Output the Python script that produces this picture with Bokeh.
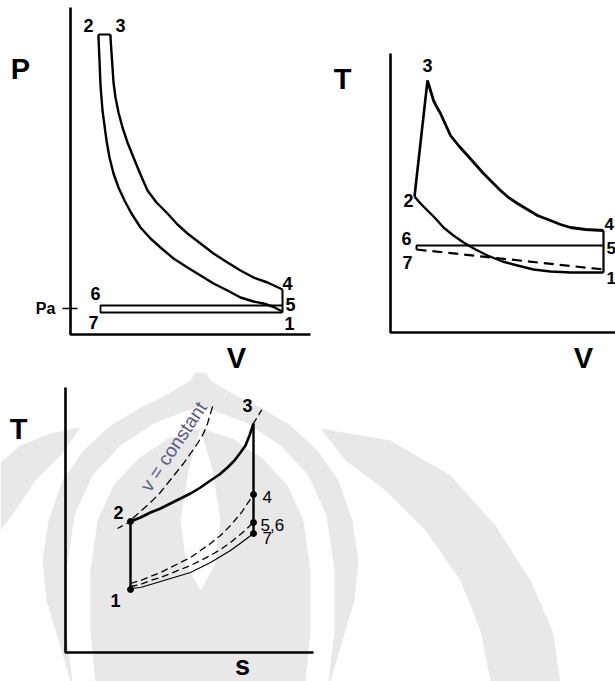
from bokeh.plotting import figure
from bokeh.layouts import column, row
from bokeh.models import Range1d
from bokeh.embed import file_html
from bokeh.resources import INLINE
from bokeh.core.properties import value

FONT = value("Liberation Sans")

# ---------------- Panel 1 : P - V diagram (schematic units) ----------------
pv_axis_v = [0.0, 0.0, 24.0]
pv_axis_p = [32.7, 0.0, 0.0]
pv_comp_v = [21.2, 20.2, 19.3, 18.3, 17.0, 15.7, 14.3, 13.0, 11.7, 10.3, 9.0, 8.0, 7.0, 6.1,
             5.4, 4.8, 4.3, 3.9, 3.6, 3.4, 3.2, 3.0, 2.9, 2.8, 2.8]
pv_comp_p = [2.3, 2.8, 3.1, 3.3, 3.7, 4.4, 5.1, 5.9, 6.7, 7.6, 8.7, 9.6, 10.7, 12.1,
             13.4, 14.7, 16.1, 17.7, 19.4, 20.9, 22.4, 24.9, 27.4, 29.7, 30.0]
pv_heat_v = [2.8, 4.0]
pv_heat_p = [30.0, 30.0]
pv_exp_v = [4.0, 4.0, 4.1, 4.2, 4.3, 4.5, 4.8, 5.2, 5.7, 6.3, 7.0, 7.7, 8.6, 9.7, 10.7,
            11.7, 13.0, 14.3, 15.7, 17.0, 18.3, 19.7, 21.2]
pv_exp_p = [30.0, 29.7, 28.2, 26.7, 25.2, 23.7, 22.2, 20.7, 19.2, 17.7, 16.0, 14.4, 13.2, 12.1, 11.0,
            10.1, 9.1, 8.1, 7.2, 6.4, 5.7, 5.2, 4.5]
pv_blow_v = [21.2, 21.2]
pv_blow_p = [4.5, 2.2]
pv_gas_v = [21.2, 3.0, 3.0, 21.2]
pv_gas_p = [2.9, 2.9, 2.2, 2.2]
pv_pa_v = [-0.8, 0.7]
pv_pa_p = [2.6, 2.6]
pv_lbl = ["2", "3", "4", "5", "1", "6", "7"]
pv_lbl_v = [1.8, 5.0, 21.7, 22.0, 21.9, 2.5, 2.3]
pv_lbl_p = [30.9, 30.9, 5.1, 3.0, 1.1, 4.1, 1.2]
pv_axis_lbl = ["P", "V"]
pv_axis_lbl_v = [-5.0, 16.6]
pv_axis_lbl_p = [26.6, -2.3]

# ---------------- Panel 2 : T - V diagram ----------------
tv_axis_v = [0.0, 0.0, 22.5]
tv_axis_t = [27.9, 0.0, 0.0]
tv_comb_v = [2.4, 3.7]
tv_comb_t = [13.6, 25.2]
tv_exp_v = [3.7, 4.0, 4.3, 4.6, 5.0, 5.5, 6.0, 6.8, 7.7, 8.5, 9.3, 10.2, 11.0, 11.8, 12.7,
            13.7, 14.7, 16.0, 17.0, 18.0, 19.5, 21.3]
tv_exp_t = [25.2, 24.2, 23.2, 22.6, 21.9, 20.8, 19.7, 18.7, 17.7, 16.8, 15.9, 15.0, 14.2, 13.5, 12.9,
            12.3, 11.7, 11.2, 10.8, 10.5, 10.3, 10.2]
tv_blow_v = [21.3, 21.3]
tv_blow_t = [10.2, 6.0]
tv_comp_v = [21.3, 18.0, 16.0, 14.3, 12.7, 11.2, 9.7, 8.5, 7.3, 6.3, 5.3, 4.5, 3.7, 3.0, 2.4]
tv_comp_t = [6.0, 6.0, 6.1, 6.3, 6.7, 7.1, 7.7, 8.3, 9.0, 9.7, 10.5, 11.4, 12.2, 12.9, 13.6]
tv_exh_v = [21.3, 2.6, 2.6]
tv_exh_t = [8.7, 8.7, 8.3]
tv_int_v = [2.6, 21.3]
tv_int_t = [8.3, 6.3]
tv_lbl = ["3", "2", "6", "7"]
tv_lbl_v = [3.7, 1.8, 1.6, 1.7]
tv_lbl_t = [26.7, 13.2, 9.4, 7.0]
tv_lbl_r = ["4", "5", "1"]
tv_lbl_r_v = [21.4, 21.6, 21.6]
tv_lbl_r_t = [10.9, 8.5, 5.5]
tv_axis_lbl = ["T", "V"]
tv_axis_lbl_v = [-4.8, 19.3]
tv_axis_lbl_t = [25.4, -2.5]

# ---------------- Panel 3 : T - s diagram ----------------
ts_axis_s = [0.0, 0.0, 24.8]
ts_axis_t = [26.5, 0.0, 0.0]
ts_comp_s = [6.5, 6.5]
ts_comp_t = [6.3, 13.1]
ts_heat_s = [6.5, 7.5, 8.5, 9.5, 10.5, 11.5, 12.5, 13.5, 14.5, 15.4, 16.2, 16.9, 17.5, 18.0, 18.4, 18.8]
ts_heat_t = [13.1, 13.5, 14.0, 14.4, 14.9, 15.4, 15.9, 16.5, 17.2, 17.8, 18.5, 19.2, 20.0, 20.7, 21.7, 22.9]
ts_ext_lo_s = [5.2, 6.5]
ts_ext_lo_t = [12.4, 13.1]
ts_ext_hi_s = [18.8, 19.7]
ts_ext_hi_t = [22.9, 24.4]
ts_vc_s = [6.7, 7.6, 8.5, 9.4, 10.2, 11.0, 11.8, 12.5, 13.2, 13.8, 14.2, 14.5, 14.8]
ts_vc_t = [13.4, 14.2, 15.0, 15.9, 16.9, 17.9, 18.9, 19.9, 20.9, 21.9, 22.9, 23.9, 24.9]
ts_exp_s = [18.8, 18.8]
ts_exp_t = [22.9, 11.9]
ts_c7_s = [6.5, 7.5, 8.5, 9.5, 10.5, 11.5, 12.5, 13.5, 14.5, 15.5, 16.5, 17.6, 18.8]
ts_c7_t = [6.4, 6.5, 6.8, 7.1, 7.4, 7.7, 8.0, 8.5, 9.0, 9.6, 10.2, 11.0, 11.9]
ts_c56_s = [6.5, 7.5, 8.5, 9.5, 10.5, 11.5, 12.5, 13.5, 14.5, 15.5, 16.5, 17.6, 18.8]
ts_c56_t = [6.6, 6.8, 7.2, 7.5, 7.9, 8.3, 8.7, 9.2, 9.7, 10.3, 11.0, 11.9, 13.0]
ts_c4_s = [6.5, 7.5, 8.5, 9.5, 10.5, 11.5, 12.5, 13.5, 14.5, 15.5, 16.5, 17.6, 18.8]
ts_c4_t = [6.9, 7.2, 7.6, 8.0, 8.5, 9.0, 9.5, 10.2, 10.9, 11.7, 12.7, 14.0, 15.8]
ts_pts_s = [6.5, 6.5, 18.8, 18.8, 18.8]
ts_pts_t = [6.3, 13.1, 15.8, 13.0, 11.9]
ts_lbl_bold = ["1", "2", "3"]
ts_lbl_bold_s = [5.0, 5.3, 18.2]
ts_lbl_bold_t = [5.2, 14.0, 24.7]
ts_lbl = ["4", "5,6", "7"]
ts_lbl_s = [19.7, 19.5, 19.7]
ts_lbl_t = [15.6, 12.8, 11.5]
ts_axis_lbl = ["T", "s"]
ts_axis_lbl_s = [-4.7, 17.7]
ts_axis_lbl_t = [22.4, -1.3]
ts_vc_text = ["v = constant"]
ts_vc_text_s = [10.8]
ts_vc_text_t = [20.6]

# faint background watermark (page decoration behind the T-s diagram)
wm_dome_s = [13.5, 12.5, 10.0, 7.5, 4.5, 1.8, -0.3, -1.7, -2.3, -1.9, -0.7, 0.5,
             26.5, 27.7, 28.9, 29.3, 28.7, 27.3, 25.2, 22.5, 19.5, 17.0, 14.5]
wm_dome_t = [29.0, 27.2, 25.7, 24.5, 22.7, 20.2, 17.2, 13.2, 9.2, 5.2, 1.2, -2.9,
             -2.9, 1.2, 5.2, 9.2, 13.2, 17.2, 20.2, 22.7, 24.5, 25.7, 27.2]
wm_arch_s = [0.7, 0.1, 0.1, 0.9, 2.7, 5.5, 9.0, 13.5, 18.0, 21.5, 24.3, 26.1, 26.9, 26.9, 26.3,
             24.0, 24.5, 24.5, 23.8, 22.2, 19.7, 16.7, 13.5, 10.3, 7.3, 4.8, 3.2, 2.5, 2.5, 3.0]
wm_arch_t = [-2.9, 2.2, 8.2, 13.7, 17.7, 20.7, 23.0, 24.7, 23.0, 20.7, 17.7, 13.7, 8.2, 2.2, -2.9,
             -2.9, 2.2, 8.2, 13.2, 16.7, 19.4, 21.4, 22.4, 21.4, 19.4, 16.7, 13.2, 8.2, 2.2, -2.9]
wm_drop_s = [13.5, 12.3, 11.5, 12.1, 13.5, 14.9, 15.5, 14.7]
wm_drop_t = [22.4, 18.2, 13.2, 8.7, 6.2, 8.7, 13.2, 18.2]
wm_petal_s = [-6.5, -4.5, -1.5, 1.5, -0.5, -3.0, -5.0, -6.5]
wm_petal_t = [19.0, 20.7, 21.9, 22.5, 19.7, 17.2, 14.2, 12.2]
wm_lobe_s = [25.5, 32.5, 38.5, 43.0, 46.5, 48.7, 49.5, 42.5, 41.5, 39.5, 36.0, 32.0, 28.0]
wm_lobe_t = [22.4, 21.2, 17.7, 12.7, 7.2, 2.2, -2.9, -2.9, 2.2, 7.2, 12.2, 16.2, 19.2]


def make_fig(w, h, xr, yr):
    p = figure(width=w, height=h, x_range=Range1d(*xr), y_range=Range1d(*yr),
               output_backend="svg", toolbar_location=None,
               x_axis_type=None, y_axis_type=None,
               min_border=0, min_border_left=0, min_border_right=0,
               min_border_top=0, min_border_bottom=0)
    p.outline_line_color = None
    p.background_fill_color = "white"
    p.border_fill_color = "white"
    return p


def labels(p, xs, ys, txt, size, style="bold", align="center", color="black"):
    p.text(x=xs, y=ys, text=txt, text_font=FONT, text_font_style=style,
           text_font_size=size, text_align=align, text_baseline="middle",
           text_color=color)


# ---- panel 1
p1 = make_fig(330, 372, (-7.0, 26.0), (-3.8, 33.4))
p1.line(pv_axis_v, pv_axis_p, line_width=2.6, color="black")
p1.line(pv_pa_v, pv_pa_p, line_width=1.6, color="black")
p1.line(pv_comp_v, pv_comp_p, line_width=2.4, color="black", line_join="round")
p1.line(pv_heat_v, pv_heat_p, line_width=2.0, color="black")
p1.line(pv_exp_v, pv_exp_p, line_width=2.4, color="black", line_join="round")
p1.line(pv_blow_v, pv_blow_p, line_width=2.0, color="black")
p1.line(pv_gas_v, pv_gas_p, line_width=1.8, color="black")
labels(p1, pv_lbl_v, pv_lbl_p, pv_lbl, "18px")
labels(p1, [-2.5], [2.6], ["Pa"], "16px")
labels(p1, pv_axis_lbl_v, pv_axis_lbl_p, pv_axis_lbl, "29px")

# ---- panel 2
p2 = make_fig(285, 372, (-6.0, 22.5), (-4.0, 33.2))
p2.line(tv_axis_v, tv_axis_t, line_width=2.6, color="black")
p2.line(tv_comb_v, tv_comb_t, line_width=2.6, color="black")
p2.line(tv_exp_v, tv_exp_t, line_width=2.8, color="black", line_join="round")
p2.line(tv_blow_v, tv_blow_t, line_width=2.2, color="black")
p2.line(tv_comp_v, tv_comp_t, line_width=2.4, color="black", line_join="round")
p2.line(tv_exh_v, tv_exh_t, line_width=2.0, color="black")
p2.line(tv_int_v, tv_int_t, line_width=2.2, color="black", line_dash="10 6")
labels(p2, tv_lbl_v, tv_lbl_t, tv_lbl, "18px")
labels(p2, tv_lbl_r_v, tv_lbl_r_t, tv_lbl_r, "17px", align="left")
labels(p2, tv_axis_lbl_v, tv_axis_lbl_t, tv_axis_lbl, "29px")

# ---- panel 3
p3 = make_fig(615, 309, (-6.5, 55.0), (-2.9, 28.0))
p3.patch(wm_dome_s, wm_dome_t, color="#e8e8e8", line_color=None)
p3.patch(wm_arch_s, wm_arch_t, color="white", line_color=None)
p3.patch(wm_drop_s, wm_drop_t, color="white", line_color=None)
p3.patch(wm_petal_s, wm_petal_t, color="#e8e8e8", line_color=None)
p3.patch(wm_lobe_s, wm_lobe_t, color="#e8e8e8", line_color=None)
p3.line(ts_axis_s, ts_axis_t, line_width=2.6, color="black")
p3.line(ts_vc_s, ts_vc_t, line_width=1.3, color="black", line_dash="8 4")
p3.line(ts_ext_lo_s, ts_ext_lo_t, line_width=1.3, color="black", line_dash="6 4")
p3.line(ts_ext_hi_s, ts_ext_hi_t, line_width=1.3, color="black", line_dash="6 4")
p3.line(ts_heat_s, ts_heat_t, line_width=2.6, color="black", line_join="round")
p3.line(ts_comp_s, ts_comp_t, line_width=2.4, color="black")
p3.line(ts_exp_s, ts_exp_t, line_width=2.4, color="black")
p3.line(ts_c4_s, ts_c4_t, line_width=1.3, color="black", line_dash="7 4")
p3.line(ts_c56_s, ts_c56_t, line_width=1.3, color="black", line_dash="7 4")
p3.line(ts_c7_s, ts_c7_t, line_width=1.2, color="black")
p3.scatter(ts_pts_s, ts_pts_t, size=6, color="black")
labels(p3, ts_lbl_bold_s, ts_lbl_bold_t, ts_lbl_bold, "18px")
labels(p3, ts_lbl_s, ts_lbl_t, ts_lbl, "17px", style="normal", align="left")
labels(p3, ts_axis_lbl_s, ts_axis_lbl_t, ts_axis_lbl, ["29px", "27px"])
p3.text(x=ts_vc_text_s, y=ts_vc_text_t, text=ts_vc_text, angle=0.98,
        text_font=FONT, text_font_size="19px", text_align="center",
        text_baseline="middle", text_color="#5d5a85")

layout = column(row(p1, p2, spacing=0), p3, spacing=0)

with open("out.html", "w") as f:
    f.write(file_html(layout, INLINE))
